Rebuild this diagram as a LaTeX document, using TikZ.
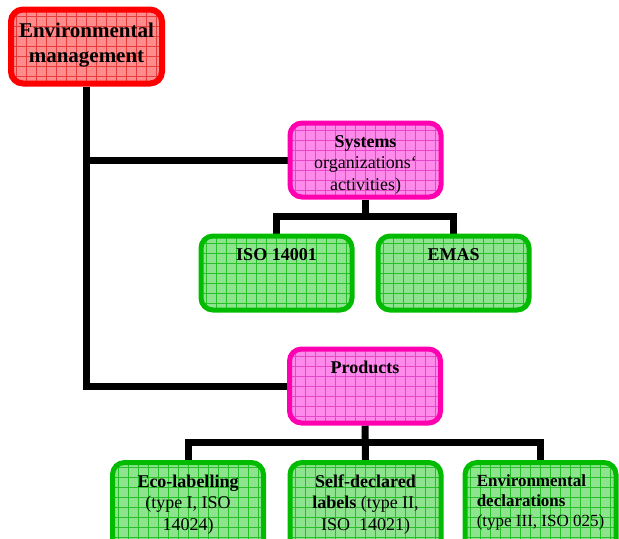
\documentclass[tikz,border=0pt]{standalone}
\usepackage{fontspec}
\setmainfont{Liberation Serif}
\usepackage{xcolor}
\usepackage{tikz}
\usetikzlibrary{positioning,calc,backgrounds}
\definecolor{envred}{RGB}{255,0,0}
\definecolor{envredfill}{RGB}{255,140,140}
\definecolor{envredgrid}{RGB}{230,60,60}
\definecolor{sysmag}{RGB}{255,0,176}
\definecolor{sysmagfill}{RGB}{255,138,236}
\definecolor{sysmaggrid}{RGB}{232,70,200}
\definecolor{leafgreen}{RGB}{0,187,0}
\definecolor{leafgreenfill}{RGB}{142,228,142}
\definecolor{leafgreengrid}{RGB}{40,192,40}

\begin{document}
\begin{tikzpicture}[x=0.5pt,y=-0.5pt,font=\fontsize{9}{10.75}\selectfont,
  gridded/.style={path picture={\draw[#1,line width=.3pt,step=5pt]
    (path picture bounding box.south west) grid (path picture bounding box.north east);}},
  box/.style={draw,rounded corners=6pt,line width=2.5pt,minimum width=75.5pt,minimum height=37pt,inner sep=0pt},
  rootbox/.style={box,draw=envred,fill=envredfill,gridded=envredgrid,line width=3pt,minimum width=75.5pt},
  midbox/.style={box,draw=sysmag,fill=sysmagfill,gridded=sysmaggrid},
  leafbox/.style={box,draw=leafgreen,fill=leafgreenfill,gridded=leafgreengrid},
  txt/.style={anchor=north,align=center,inner sep=0pt,yshift=-7.2pt},
  conn/.style={line width=3.5pt,line join=miter}]
\useasboundingbox (0,0) rectangle (619,538);
\clip (0,0) rectangle (619,538);

% boxes
\node[rootbox] (env) at (86.5,46.5) {};
\node[txt,yshift=-1pt,font=\fontsize{10.5}{12.5}\selectfont\bfseries] (envt) at (env.north) {Environmental\\management};
\node[midbox] (sys) at (365.5,160) {};
\node[txt] (syst) at (sys.north) {\textbf{Systems}\\organizations‘\\activities)};
\node[leafbox] (iso) at (276.5,273) {};
\node[txt,font=\fontsize{9}{10.75}\selectfont\bfseries] (isot) at (iso.north) {ISO 14001};
\node[leafbox] (emas) at (453.5,273) {};
\node[txt,font=\fontsize{9}{10.75}\selectfont\bfseries] (emast) at (emas.north) {EMAS};
\node[midbox] (prod) at (365,386) {};
\node[txt,font=\fontsize{9}{10.75}\selectfont\bfseries] (prodt) at (prod.north) {Products};
\node[leafbox,minimum height=45pt] (eco) at (188,507.5) {};
\node[txt] (ecot) at (eco.north) {\textbf{Eco-labelling}\\(type I, ISO\\14024)};
\node[leafbox,minimum height=45pt] (self) at (365.5,507.5) {};
\node[txt] (selft) at (self.north) {\textbf{Self-declared}\\\textbf{labels} (type II,\\ISO~~14021)};
\node[leafbox,minimum height=45pt] (decl) at (540.5,507.5) {};
\node[txt,align=left,font=\fontsize{8.5}{10}\selectfont] (declt) at (decl.north)
  {\textbf{Environmental}\\\textbf{declarations}\\(type III, ISO 025)};

% connectors
\coordinate (sysfork) at ($(sys.south)!.5!(sys.south |- iso.north)$);
\coordinate (prodfork) at ($(prod.south)!.5!(prod.south |- self.north)$);
\begin{pgfonlayer}{background}
\draw[conn] (env.south) |- (prod.west);
\draw[conn] (env.south |- sys.west) -- (sys.west);
\draw[conn] (sys.south) -- (sysfork);
\draw[conn] (iso.north) |- (sysfork) -| (emas.north);
\draw[conn] (prod.south) -- (self.north);
\draw[conn] (eco.north) |- (prodfork) -| (decl.north);
\end{pgfonlayer}
\end{tikzpicture}
\end{document}
